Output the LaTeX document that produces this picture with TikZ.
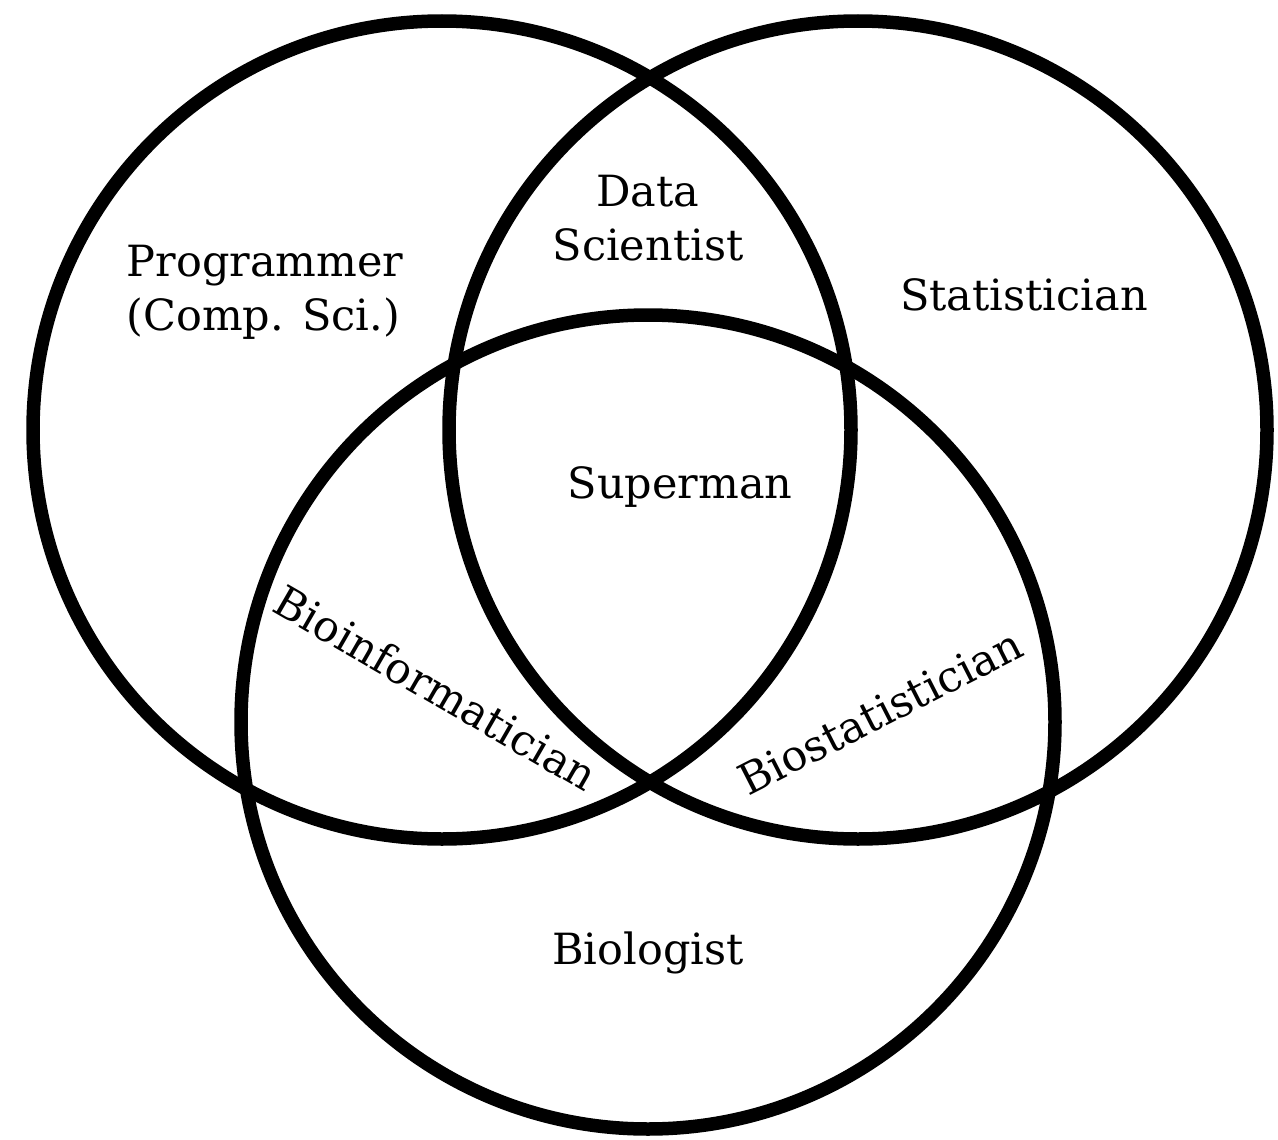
\documentclass[tikz,border=0pt]{standalone}
\usepackage{fontspec}
\setmainfont{DejaVu Serif}
\begin{document}
\begin{tikzpicture}[x=1pt,y=-1pt,
  ring/.style={draw=black,line width=13.5pt},
  lbl/.style={font=\fontsize{43}{54}\selectfont,inner sep=0pt,align=center}]
\useasboundingbox[fill=white] (0,0) rectangle (1278,1140);
\coordinate (cL) at (442,430);
\coordinate (cR) at (858,430);
\coordinate (cB) at (648,722);
\draw[ring] (cL) circle[radius=409];
\draw[ring] (cR) circle[radius=409];
\draw[ring] (cB) circle[radius=407];
\node[lbl,align=left] (prog) at (265,292) {Programmer\\(Comp. Sci.)};
\node[lbl] (ds) at (648,218) {Data\\Scientist};
\node[lbl] (stat) at (1024,295) {Statistician};
\node[lbl] (sup) at (680,487) {Superman};
\node[lbl,rotate=-30] (bioinf) at (436,688) {Bioinformatician};
\node[lbl,rotate=27] (biostat) at (880,712) {Biostatistician};
\node[lbl] (biol) at (648,953) {Biologist};
\end{tikzpicture}
\end{document}
